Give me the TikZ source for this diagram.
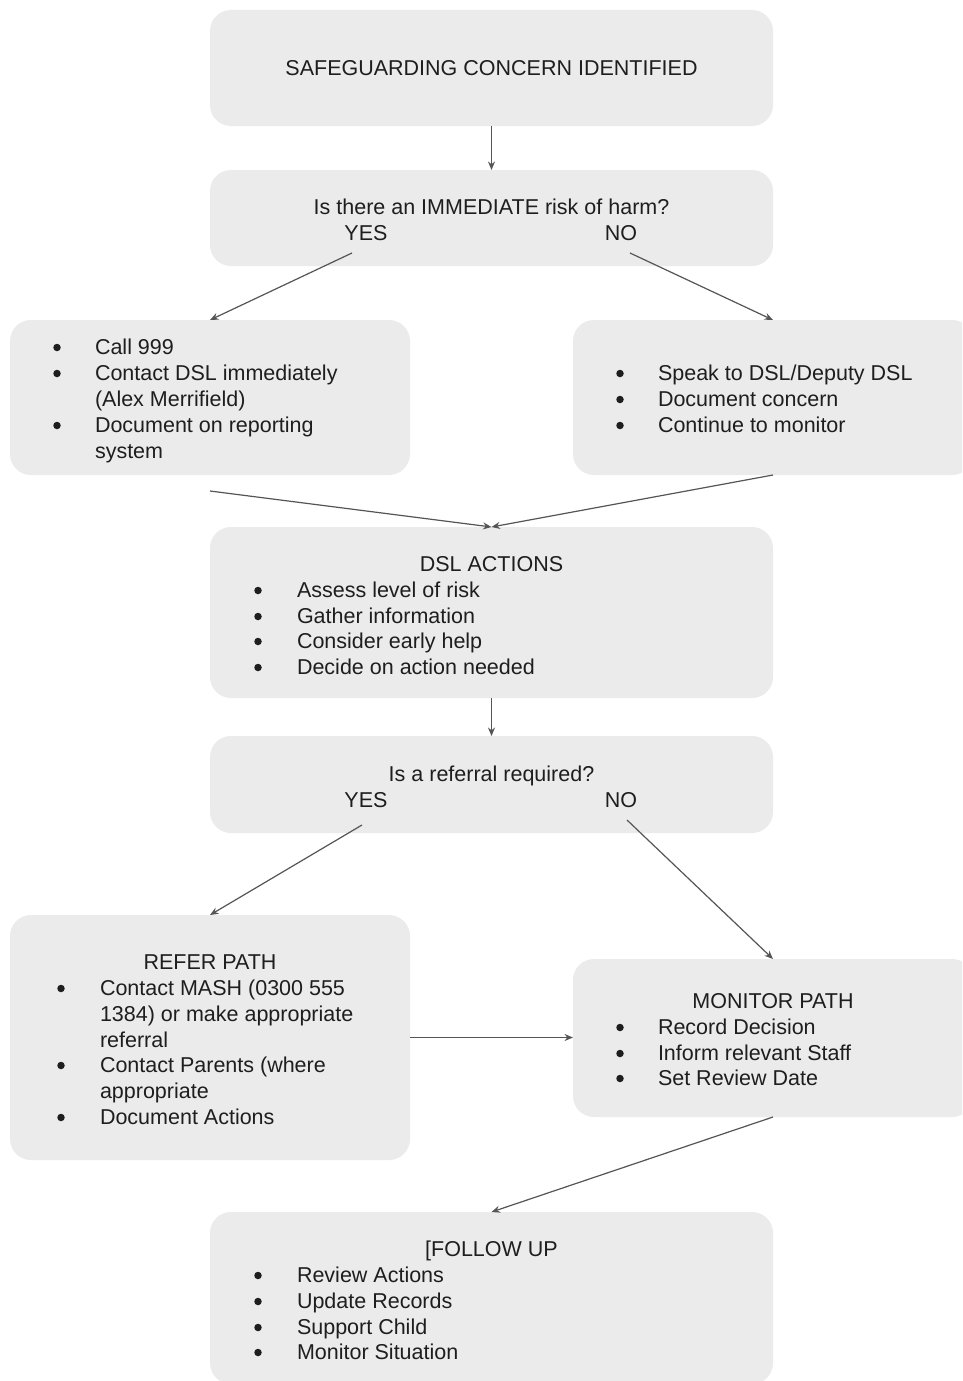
\documentclass[tikz,border=0pt]{standalone}
\usepackage{fontspec}
\setmainfont{Liberation Sans}
\usetikzlibrary{arrows.meta}
\definecolor{boxfill}{HTML}{EBEBEB}
\definecolor{txtcol}{HTML}{1E1E1E}
\definecolor{arrcol}{HTML}{555555}
\tikzset{
  boxnode/.style={fill=boxfill, draw=none, rounded corners=21pt, inner sep=0pt, outer sep=0pt},
  txt/.style={text=txtcol, font=\fontsize{21.5}{26}\selectfont, inner sep=0pt, outer sep=0pt},
  lefttxt/.style={txt, anchor=base west},
  midtxt/.style={txt, anchor=base},
  bulletdot/.style={circle, fill=txtcol, draw=none, inner sep=0pt, minimum size=7.5pt},
  conn/.style={draw=arrcol, line width=1.2pt, -{Stealth[length=8.5pt,width=7pt]}}
}
\newcommand{\itm}[5]{%
  \node[bulletdot] (#1b) at (#2,#4-6.5) {};
  \node[lefttxt] (#1) at (#3,#4) {#5};}
\begin{document}
\begin{tikzpicture}[x=1pt,y=-1pt]
\useasboundingbox (0,0) rectangle (962,1381);
\clip (0,0) rectangle (962,1381);
\fill[white] (0,0) rectangle (962,1381);

% boxes
\node[boxnode, minimum width=563pt, minimum height=116pt] (b1) at (491.5,68) {};
\node[boxnode, minimum width=563pt, minimum height=96pt] (b2) at (491.5,218) {};
\node[boxnode, minimum width=400pt, minimum height=155pt] (bl) at (210,397.5) {};
\node[boxnode, minimum width=400pt, minimum height=155pt] (br) at (773,397.5) {};
\node[boxnode, minimum width=563pt, minimum height=171pt] (bd) at (491.5,612.5) {};
\node[boxnode, minimum width=563pt, minimum height=97pt] (bq) at (491.5,784.5) {};
\node[boxnode, minimum width=400pt, minimum height=245pt] (brf) at (210,1037.5) {};
\node[boxnode, minimum width=400pt, minimum height=158pt] (bm) at (773,1038) {};
\node[boxnode, minimum width=563pt, minimum height=172pt] (bf) at (491.5,1298) {};

% texts
\node[midtxt] (t1) at (491.5,76) {SAFEGUARDING CONCERN IDENTIFIED};
\node[midtxt] (t2) at (491.5,214) {Is there an IMMEDIATE risk of harm?};
\node[midtxt] (yes1) at (366,240) {YES};
\node[midtxt] (no1) at (621,240) {NO};

\itm{l1}{57}{95}{354}{Call 999}
\itm{l2}{57}{95}{380}{Contact DSL immediately}
\node[lefttxt] (l2b2) at (95,406) {(Alex Merrifield)};
\itm{l3}{57}{95}{432}{Document on reporting}
\node[lefttxt] (l3b2) at (95,458) {system};

\itm{r1}{620}{658}{380}{Speak to DSL/Deputy DSL}
\itm{r2}{620}{658}{406}{Document concern}
\itm{r3}{620}{658}{432}{Continue to monitor}

\node[midtxt] (dt) at (491.5,571) {DSL ACTIONS};
\itm{d1}{258}{297}{597}{Assess level of risk}
\itm{d2}{258}{297}{623}{Gather information}
\itm{d3}{258}{297}{648}{Consider early help}
\itm{d4}{258}{297}{674}{Decide on action needed}

\node[midtxt] (qt) at (491.5,781) {Is a referral required?};
\node[midtxt] (yes2) at (366,807) {YES};
\node[midtxt] (no2) at (621,807) {NO};

\node[midtxt] (rt) at (210,969) {REFER PATH};
\itm{f1}{61}{100}{995}{Contact MASH (0300 555}
\node[lefttxt] (f1b2) at (100,1021) {1384) or make appropriate};
\node[lefttxt] (f1b3) at (100,1047) {referral};
\itm{f2}{61}{100}{1072}{Contact Parents (where}
\node[lefttxt] (f2b2) at (100,1098) {appropriate};
\itm{f3}{61}{100}{1124}{Document Actions}

\node[midtxt] (mt) at (773,1008) {MONITOR PATH};
\itm{m1}{620}{658}{1034}{Record Decision}
\itm{m2}{620}{658}{1060}{Inform relevant Staff}
\itm{m3}{620}{658}{1085}{Set Review Date}

\node[midtxt] (ft) at (491.5,1256) {[FOLLOW UP};
\itm{u1}{258}{297}{1282}{Review Actions}
\itm{u2}{258}{297}{1308}{Update Records}
\itm{u3}{258}{297}{1334}{Support Child}
\itm{u4}{258}{297}{1359}{Monitor Situation}

% connectors
\coordinate (y1s) at (352,253);
\coordinate (n1s) at (630,253);
\coordinate (y2s) at (362,825);
\coordinate (n2s) at (627,820);
\draw[conn] (b1.south) -- (b2.north);
\draw[conn] (y1s) -- (bl.north);
\draw[conn] (n1s) -- (br.north);
\draw[conn] ([yshift=-16pt]bl.south) -- (bd.north);
\draw[conn] (br.south) -- (bd.north);
\draw[conn] (bd.south) -- (bq.north);
\draw[conn] (y2s) -- (brf.north);
\draw[conn] (n2s) -- (bm.north);
\draw[conn] (brf.east) -- (brf.east -| bm.west);
\draw[conn] (bm.south) -- (bf.north);
\end{tikzpicture}
\end{document}
